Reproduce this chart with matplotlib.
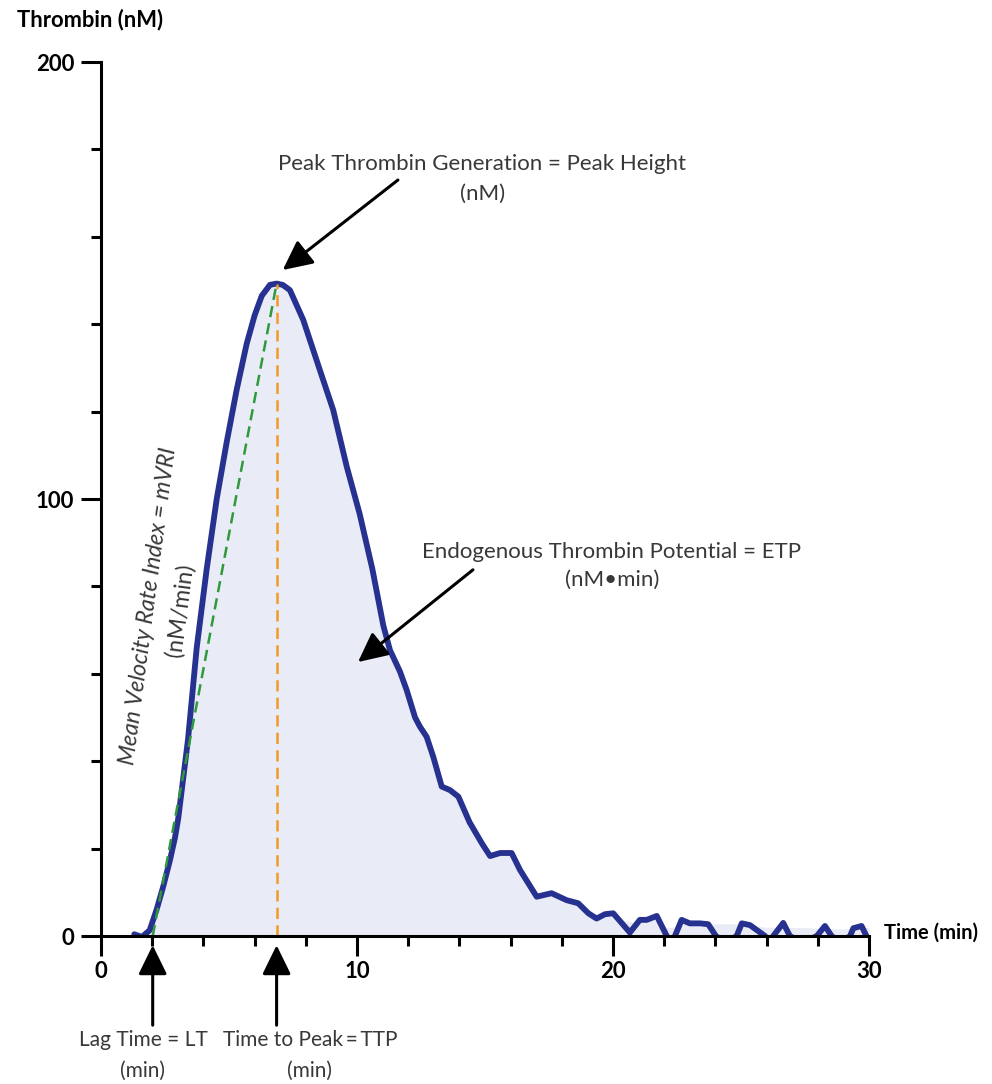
import matplotlib
matplotlib.use("Agg")
import matplotlib.pyplot as plt
import numpy as np

plt.rcParams['font.family'] = ['Lato', 'DejaVu Sans']

# thrombin generation curve
time_min = [1.3, 1.6, 1.9, 2.17, 2.43, 2.7, 2.89, 3.02, 3.4, 3.74, 4.13, 4.52,
            4.91, 5.30, 5.69, 6.0, 6.28, 6.6, 6.86, 7.1, 7.38, 7.9, 8.55, 9.07,
            9.6, 10.1, 10.6, 11.03, 11.29, 11.68, 11.94, 12.27, 12.46, 12.72,
            12.98, 13.31, 13.63, 13.96, 14.4, 14.9, 15.2, 15.59, 16.04, 16.37,
            17.02, 17.6, 18.19, 18.64, 19.04, 19.36, 19.69, 20.01, 20.66, 21.05,
            21.32, 21.71, 22.1, 22.25, 22.42, 22.68, 23.0, 23.4, 23.72, 24.02,
            24.4, 24.83, 25.03, 25.35, 25.8, 25.94, 26.1, 26.26, 26.65, 26.91,
            27.4, 27.96, 28.28, 28.54, 28.9, 29.26, 29.39, 29.71, 29.9]
thrombin_nM = [0.4, -0.2, 1.3, 6, 11.3, 17.5, 22.5, 27, 45, 66, 84, 100,
               113, 125, 135.5, 142, 146.5, 149, 149.3, 149, 147.8, 141, 129.5, 120.4,
               107.4, 96.7, 84, 71, 65.4, 60.5, 56.3, 50, 47.9, 45.6,
               41, 34.2, 33.4, 31.9, 26, 21, 18.3, 19, 19, 15.1,
               9.0, 9.8, 8.2, 7.5, 5.2, 4.0, 5.0, 5.2, 0.8, 3.7,
               3.7, 4.6, 0, -1.5, 0, 3.7, 2.9, 2.9, 2.7, 0,
               -1.5, 0, 2.9, 2.5, 0.6, 0, -1.5, 0, 3.0, 0,
               -1.5, 0, 2.3, 0, -1.5, 0, 1.8, 2.3, 0]

# smoothed shading under the noisy tail
tail_time = [20.0, 21.0, 22.1, 22.4, 24.0, 24.8, 26.0, 27.0, 28.0, 29.0, 30.0]
tail_fill = [4.0, 3.0, 2.0, 2.0, 2.8, 2.8, 2.0, 2.0, 1.8, 1.6, 2.0]

lag_time = 2.02
time_to_peak = 6.86
peak_height = 149.3

fig = plt.figure(figsize=(9.92, 10.84), dpi=100)
ax = fig.add_axes([0.1018, 0.1365, 0.7742, 0.8063])

t = np.array(time_min)
y = np.array(thrombin_nM)
ax.fill_between(t, np.clip(y, 0, None), 0, color='#e9ecf6', lw=0, zorder=1)
ax.fill_between(tail_time, tail_fill, 0, color='#e9ecf6', lw=0, zorder=1)
ax.plot(t, y, color='#27318f', lw=4.2, solid_joinstyle='round',
        solid_capstyle='round', zorder=3)

# mVRI slope and TTP marker
ax.plot([lag_time, time_to_peak], [0, peak_height], color='#2f9a3c', lw=1.8,
        ls=(0, (4.5, 2.5)), zorder=4)
ax.plot([time_to_peak, time_to_peak], [0, peak_height], color='#f39a25', lw=1.8,
        ls=(0, (4.5, 2.5)), zorder=4)

ax.set_xlim(0, 30)
ax.set_ylim(0, 200)
ax.set_xticks([0, 10, 20, 30])
ax.set_xticks(np.arange(0, 31, 2), minor=True)
ax.set_yticks([0, 100, 200])
ax.set_yticks(np.arange(0, 201, 20), minor=True)
for s in ['top', 'right']:
    ax.spines[s].set_visible(False)
for s in ['left', 'bottom']:
    ax.spines[s].set_linewidth(2.2)
    ax.spines[s].set_zorder(5)
ax.tick_params(which='major', direction='out', length=14.4, width=2.2, labelsize=16)
ax.tick_params(which='minor', direction='out', length=7, width=2.2)
ax.tick_params(axis='y', which='major', pad=5)
ax.tick_params(axis='x', which='major', pad=3.5)
for lab in ax.get_xticklabels() + ax.get_yticklabels():
    lab.set_fontweight('bold')

fig.text(17 / 992, 1 - 20 / 1084, 'Thrombin (nM)', fontsize=15.8, fontweight='bold',
         ha='left', va='center')
fig.text(884 / 992, 1 - 933 / 1084, 'Time (min)', fontsize=14.5, fontweight='bold',
         ha='left', va='center')

txt = '#383838'
arrow = dict(arrowstyle='-|>,head_length=0.45,head_width=0.22', mutation_scale=40,
             lw=2.2, color='black', shrinkA=0, shrinkB=0)

ax.text(14.9, 173.3, 'Peak Thrombin Generation = Peak Height\n(nM)', fontsize=16,
        color=txt, ha='center', va='center', linespacing=1.6)
ax.annotate('', xy=(7.1, 152.4), xytext=(11.6, 173), arrowprops=arrow)

ax.text(19.96, 84.7, 'Endogenous Thrombin Potential = ETP\n(nM\u2022min)', fontsize=16,
        color=txt, ha='center', va='center', linespacing=1.5)
ax.annotate('', xy=(10.04, 62.7), xytext=(14.53, 83.8), arrowprops=arrow)

ax.text(1.87, 75.5, 'Mean Velocity Rate Index = mVRI', fontsize=16.5, color=txt,
        style='italic', rotation=82.5, ha='center', va='center', rotation_mode='anchor')
ax.text(3.09, 74.6, '(nM/min)', fontsize=16.5, color=txt, rotation=82.5,
        ha='center', va='center', rotation_mode='anchor')

ax.annotate('', xy=(lag_time, -2.1), xytext=(lag_time, -20.4), arrowprops=arrow,
            annotation_clip=False)
ax.text(1.64, -27.3, 'Lag Time = LT\n(min)', fontsize=15, color=txt,
        ha='center', va='center', linespacing=1.65, clip_on=False)
ax.annotate('', xy=(time_to_peak, -2.1), xytext=(time_to_peak, -20.4), arrowprops=arrow,
            annotation_clip=False)
ax.text(8.16, -27.3, 'Time to Peak\u2009=\u2009TTP\n(min)', fontsize=15,
        color=txt, ha='center', va='center', linespacing=1.65, clip_on=False)

fig.savefig('out.png', dpi=100)
